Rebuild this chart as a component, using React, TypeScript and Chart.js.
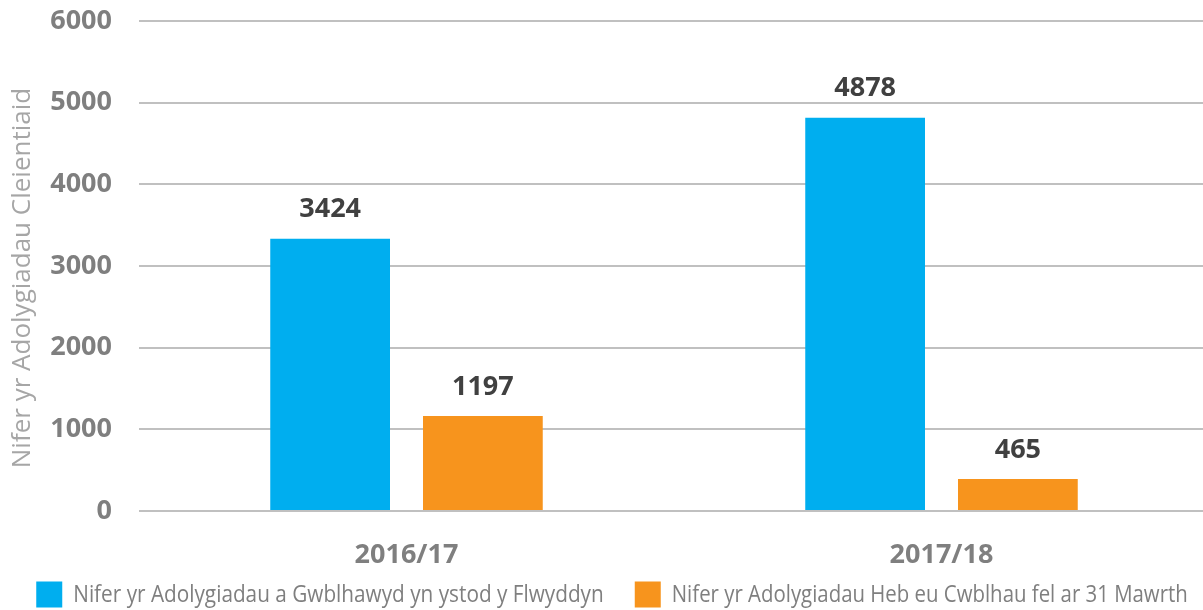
import React, { useEffect, useRef } from "react";
import { Chart, registerables } from "chart.js";

Chart.register(...registerables);

const categories = ["2016/17", "2017/18"];
const seriesNames = [
  "Nifer yr Adolygiadau a Gwblhawyd yn ystod y Flwyddyn",
  "Nifer yr Adolygiadau Heb eu Cwblhau fel ar 31 Mawrth",
];
// bar heights as drawn in the picture
const completedBars = [3333, 4816];
const pendingBars = [1164, 392];
// value labels printed above the bars
const completedLabels = ["3424", "4878"];
const pendingLabels = ["1197", "465"];
const yTicks = [0, 1000, 2000, 3000, 4000, 5000, 6000];
const yTitle = "Nifer yr Adolygiadau Cleientiaid";

const colors = ["#00AEEF", "#F7941D"];

const valueLabelPlugin = {
  id: "valueLabels",
  afterDatasetsDraw(chart: any) {
    const ctx = chart.ctx;
    const allLabels = [completedLabels, pendingLabels];
    ctx.save();
    ctx.font = "bold 27px 'Open Sans'";
    ctx.fillStyle = "#404040";
    ctx.textAlign = "center";
    ctx.textBaseline = "middle";
    chart.data.datasets.forEach((ds: any, i: number) => {
      const meta = chart.getDatasetMeta(i);
      meta.data.forEach((bar: any, j: number) => {
        ctx.fillText(allLabels[i][j], bar.x, bar.y - 29);
      });
    });
    ctx.restore();
  },
};

const yTitlePlugin = {
  id: "yTitle",
  afterDraw(chart: any) {
    const ctx = chart.ctx;
    const area = chart.chartArea;
    ctx.save();
    ctx.translate(23, (area.top + area.bottom) / 2 + 12);
    ctx.rotate(-Math.PI / 2);
    ctx.font = "26px 'Open Sans'";
    ctx.fillStyle = "#a6a6a6";
    ctx.textAlign = "center";
    ctx.textBaseline = "middle";
    ctx.fillText(yTitle, 0, 0);
    ctx.restore();
  },
};

const legendPlugin = {
  id: "customLegend",
  afterDraw(chart: any) {
    const ctx = chart.ctx;
    const box = 26;
    const gap = 11;
    const spacing = 31;
    const squeeze = [0.865, 0.85];
    ctx.save();
    ctx.font = "24px 'Open Sans'";
    const widths = chart.data.datasets.map((ds: any, i: number) => ctx.measureText(ds.label).width * squeeze[i]);
    const total = widths.reduce((a: number, w: number) => a + box + gap + w, 0) + spacing * (widths.length - 1);
    let x = 612 - total / 2;
    const cy = 594.5;
    chart.data.datasets.forEach((ds: any, i: number) => {
      ctx.fillStyle = ds.backgroundColor;
      ctx.fillRect(x, cy - box / 2, box, box);
      x += box + gap;
      ctx.save();
      ctx.translate(x, cy + 1);
      ctx.scale(squeeze[i], 1);
      ctx.fillStyle = "#7f7f7f";
      ctx.textAlign = "left";
      ctx.textBaseline = "middle";
      ctx.fillText(ds.label, 0, 0);
      ctx.restore();
      x += widths[i] + spacing;
    });
    ctx.restore();
  },
};

export default function App() {
  const ref = useRef<HTMLCanvasElement | null>(null);
  useEffect(() => {
    if (!ref.current) return;
    const chart = new Chart(ref.current, {
      type: "bar",
      data: {
        labels: categories,
        datasets: [
          { label: seriesNames[0], data: completedBars, backgroundColor: colors[0], categoryPercentage: 0.571, barPercentage: 0.784 },
          { label: seriesNames[1], data: pendingBars, backgroundColor: colors[1], categoryPercentage: 0.571, barPercentage: 0.784 },
        ],
      },
      options: {
        animation: false,
        responsive: false,
        maintainAspectRatio: false,
        layout: { padding: { top: 21, right: 0, bottom: 0, left: 0 } },
        plugins: {
          legend: { display: false },
          tooltip: { enabled: false },
        },
        scales: {
          x: {
            grid: { display: false },
            border: { display: false },
            ticks: {
              color: "#7f7f7f",
              font: { family: "'Open Sans'", size: 27, weight: "bold" },
              padding: 20,
            },
            afterFit(scale: any) {
              scale.height = 99;
            },
          },
          y: {
            min: 0,
            max: 6000,
            afterBuildTicks(scale: any) {
              scale.ticks = yTicks.map((v) => ({ value: v }));
            },
            grid: { color: "#c0c0c0", lineWidth: 2, drawTicks: true, tickLength: 27, tickColor: "rgba(0,0,0,0)" },
            border: { display: false },
            ticks: {
              color: "#7f7f7f",
              font: { family: "'Open Sans'", size: 27, weight: "bold" },
              padding: 0,
              callback: (v: any) => String(v),
            },
            title: { display: false },
            afterFit(scale: any) {
              scale.width = 139;
            },
          },
        },
      },
      plugins: [valueLabelPlugin, yTitlePlugin, legendPlugin],
    });
    return () => chart.destroy();
  }, []);
  return (
    <div style={{ position: "fixed", left: 0, top: 0, width: 1203, height: 610, overflow: "hidden", background: "#fff" }}>
      <canvas ref={ref} width={1209} height={610} style={{ display: "block" }} />
    </div>
  );
}
